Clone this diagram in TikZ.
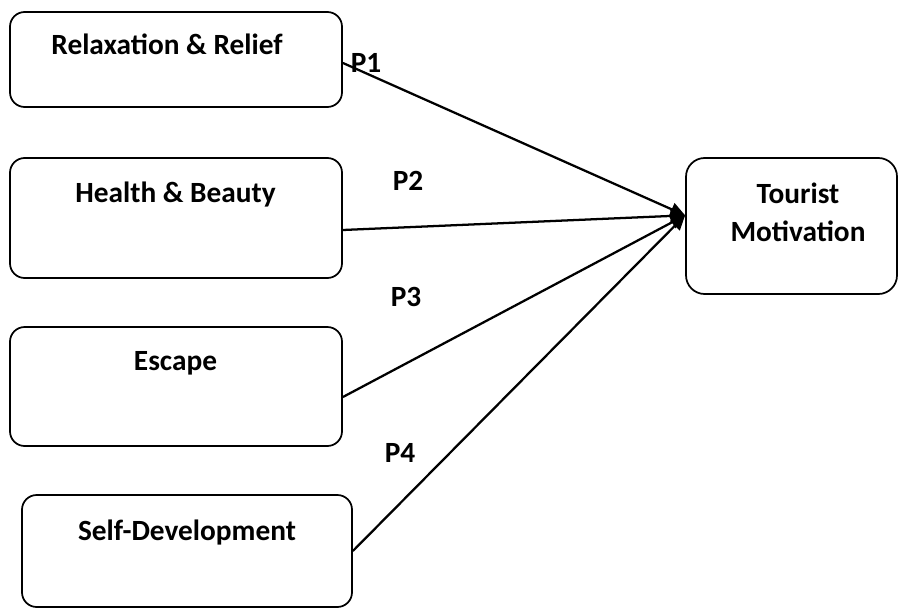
\documentclass[tikz,border=0pt]{standalone}
\usepackage{fontspec}
\setmainfont{Carlito}
\usetikzlibrary{arrows.meta}
\begin{document}
\begin{tikzpicture}[x=0.75pt,y=-0.75pt,
  box/.style={draw, line width=1.3pt, rounded corners=11pt, inner sep=0pt},
  txt/.style={font=\bfseries\fontsize{22}{28.5}\selectfont, anchor=base, inner sep=0pt, align=center},
  conn/.style={line width=1.7pt, -{Triangle[length=11pt,width=10pt]}}]
\useasboundingbox (0,0) rectangle (898,610);
\node[box, minimum width=249pt, minimum height=71.25pt] (r1) at (176,59.5) {};
\node[box, minimum width=249pt, minimum height=90pt] (r2) at (176,218) {};
\node[box, minimum width=249pt, minimum height=89.25pt] (r3) at (176,386.5) {};
\node[box, minimum width=247.5pt, minimum height=84pt] (r4) at (187,551) {};
\node[box, rounded corners=14pt, minimum width=158.25pt, minimum height=102pt] (r5) at (791.5,226) {};
\node[txt] (t1) at (167,55) {Relaxation \& Relief};
\node[txt] (t2) at (175.5,202.7) {Health \& Beauty};
\node[txt] (t3) at (175.5,370.7) {Escape};
\node[txt] (t4) at (187,540) {Self-Development};
\node[txt] (t5) at (798,241) {Tourist\\Motivation};
\coordinate (tip) at ([yshift=8pt]r5.west);
\draw[conn] ([yshift=-2.6pt]r1.east) -- (tip);
\draw[conn] ([yshift=-9pt]r2.east) -- (tip);
\draw[conn] ([yshift=-7.9pt]r3.east) -- (tip);
\draw[conn] (r4.east) -- (tip);
\node[txt] (p1) at (366,73) {P1};
\node[txt] (p2) at (408,190) {P2};
\node[txt] (p3) at (406,306.7) {P3};
\node[txt] (p4) at (400,462.7) {P4};
\end{tikzpicture}
\end{document}
